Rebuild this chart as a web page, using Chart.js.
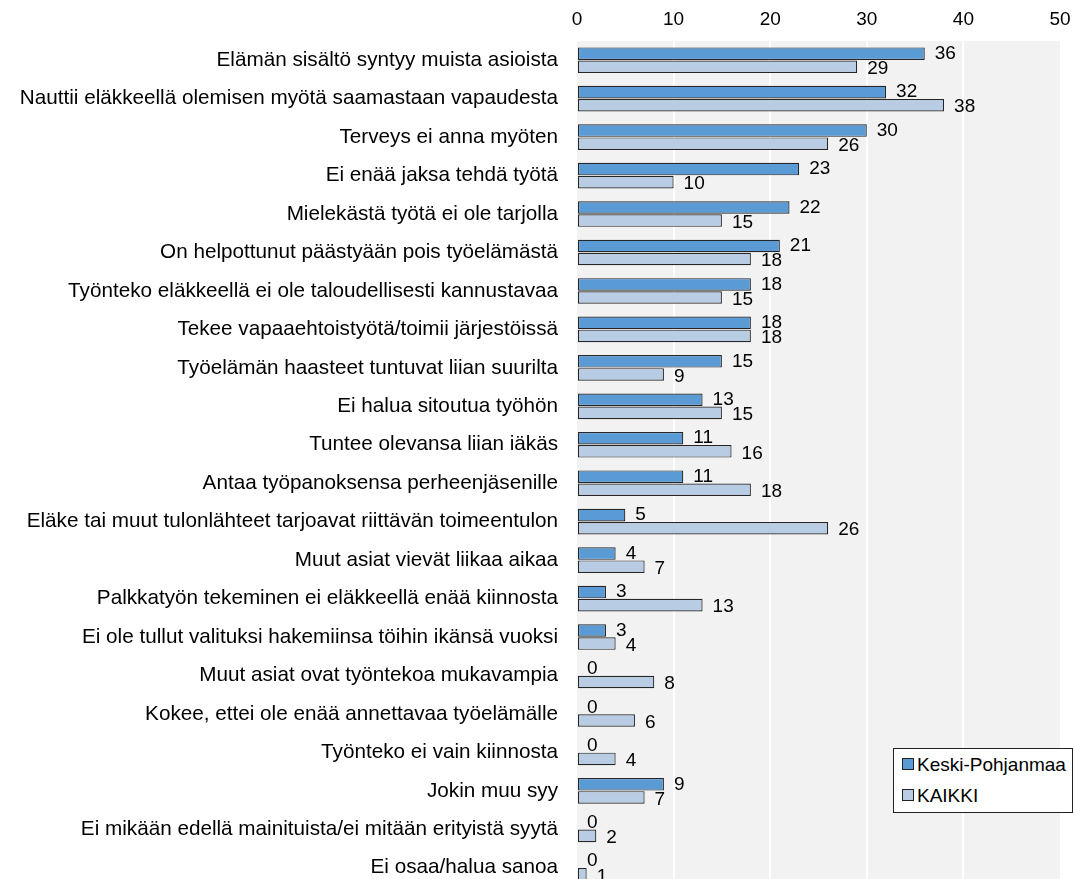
<!DOCTYPE html>
<html>
<head>
<meta charset="utf-8">
<script src="https://cdn.jsdelivr.net/npm/chart.js@4.4.1/dist/chart.umd.min.js"></script>
<style>
  html, body { margin: 0; padding: 0; background: #fff; overflow: hidden; }
  #wrap { position: relative; width: 1073px; height: 879px; overflow: hidden; }
  #legend {
    position: absolute; left: 893px; top: 748px; width: 178px; height: 63px;
    border: 1px solid #222; background: #fff; font-family: Arial, "Liberation Sans", sans-serif;
    font-size: 19px; color: #000;
  }
  #legend div { position: absolute; left: 8px; line-height: 22px; }
  #legend span.box {
    display: inline-block; width: 10px; height: 10px; border: 1px solid #222;
    margin-right: 3px; vertical-align: 1px;
  }
</style>
</head>
<body>
<div id="wrap">
  <canvas id="chart" width="1073" height="887"></canvas>
  <div id="legend">
    <div style="top:5px"><span class="box" style="background:#5b9bd5"></span>Keski-Pohjanmaa</div>
    <div style="top:36px"><span class="box" style="background:#b8cce4"></span>KAIKKI</div>
  </div>
</div>
<script>
const categories = [
    'Elämän sisältö syntyy muista asioista',
    'Nauttii eläkkeellä olemisen myötä saamastaan vapaudesta',
    'Terveys ei anna myöten',
    'Ei enää jaksa tehdä työtä',
    'Mielekästä työtä ei ole tarjolla',
    'On helpottunut päästyään pois työelämästä',
    'Työnteko eläkkeellä ei ole taloudellisesti kannustavaa',
    'Tekee vapaaehtoistyötä/toimii järjestöissä',
    'Työelämän haasteet tuntuvat liian suurilta',
    'Ei halua sitoutua työhön',
    'Tuntee olevansa liian iäkäs',
    'Antaa työpanoksensa perheenjäsenille',
    'Eläke tai muut tulonlähteet tarjoavat riittävän toimeentulon',
    'Muut asiat vievät liikaa aikaa',
    'Palkkatyön tekeminen ei eläkkeellä enää kiinnosta',
    'Ei ole tullut valituksi hakemiinsa töihin ikänsä vuoksi',
    'Muut asiat ovat työntekoa mukavampia',
    'Kokee, ettei ole enää annettavaa työelämälle',
    'Työnteko ei vain kiinnosta',
    'Jokin muu syy',
    'Ei mikään edellä mainituista/ei mitään erityistä syytä',
    'Ei osaa/halua sanoa'
];
const keskiPohjanmaa = [36, 32, 30, 23, 22, 21, 18, 18, 15, 13, 11, 11, 5, 4, 3, 3, 0, 0, 0, 9, 0, 0];
const kaikki = [29, 38, 26, 10, 15, 18, 15, 18, 9, 15, 16, 18, 26, 7, 13, 4, 8, 6, 4, 7, 2, 1];
const xTicks = [0, 10, 20, 30, 40, 50];

const FONT = 'Arial, "Liberation Sans", sans-serif';

// grey plot background
const plotBg = {
    id: 'plotBg',
    beforeDraw(chart) {
        const a = chart.chartArea;
        const ctx = chart.ctx;
        ctx.save();
        ctx.fillStyle = '#f2f2f2';
        ctx.fillRect(a.left, a.top, a.right - a.left, chart.height - a.top);
        ctx.restore();
    }
};

// value labels at bar ends (drawn under the bars, like the original)
const valueLabels = {
    id: 'valueLabels',
    beforeDatasetsDraw(chart) {
        const ctx = chart.ctx;
        ctx.save();
        ctx.font = '19px ' + FONT;
        ctx.fillStyle = '#000';
        ctx.textAlign = 'left';
        ctx.textBaseline = 'middle';
        chart.data.datasets.forEach((ds, di) => {
            chart.getDatasetMeta(di).data.forEach((bar, i) => {
                const dy = di === 0 ? 0 : 2;
                ctx.fillText(String(ds.data[i]), bar.x + 10, bar.y + dy);
            });
        });
        ctx.restore();
    }
};

new Chart(document.getElementById('chart').getContext('2d'), {
    type: 'bar',
    data: {
        labels: categories,
        datasets: [{
            label: 'Keski-Pohjanmaa',
            data: keskiPohjanmaa,
            backgroundColor: '#5b9bd5',
            borderColor: '#262626',
            borderWidth: 1.2,
            borderSkipped: false,
            barPercentage: 0.96,
            categoryPercentage: 0.68
        }, {
            label: 'KAIKKI',
            data: kaikki,
            backgroundColor: '#b8cce4',
            borderColor: '#262626',
            borderWidth: 1.2,
            borderSkipped: false,
            barPercentage: 0.96,
            categoryPercentage: 0.68
        }]
    },
    options: {
        indexAxis: 'y',
        responsive: false,
        animation: false,
        layout: {
            padding: { top: 4, right: 13, bottom: 0, left: 0 }
        },
        plugins: {
            legend: { display: false },
            tooltip: { enabled: false }
        },
        scales: {
            x: {
                position: 'top',
                min: 0,
                max: 50,
                afterBuildTicks: (axis) => {
                    axis.ticks = xTicks.map(v => ({ value: v }));
                },
                afterFit: (s) => { s.height = 37; s.paddingLeft = 0; s.paddingRight = 0; },
                grid: {
                    color: (c) => (c.tick && (c.tick.value === 0 || c.tick.value === 50)) ? 'rgba(0,0,0,0)' : '#ffffff',
                    lineWidth: 2,
                    drawTicks: false
                },
                border: { display: false },
                ticks: {
                    color: '#000',
                    padding: 10,
                    font: { family: FONT, size: 19 }
                }
            },
            y: {
                afterFit: (s) => { s.width = 577; s.paddingTop = 0; s.paddingBottom = 0; },
                grid: { display: false },
                border: { display: false },
                ticks: {
                    color: '#000',
                    padding: 11,
                    autoSkip: false,
                    font: { family: FONT, size: 20.7 }
                }
            }
        }
    },
    plugins: [plotBg, valueLabels]
});
</script>
</body>
</html>
